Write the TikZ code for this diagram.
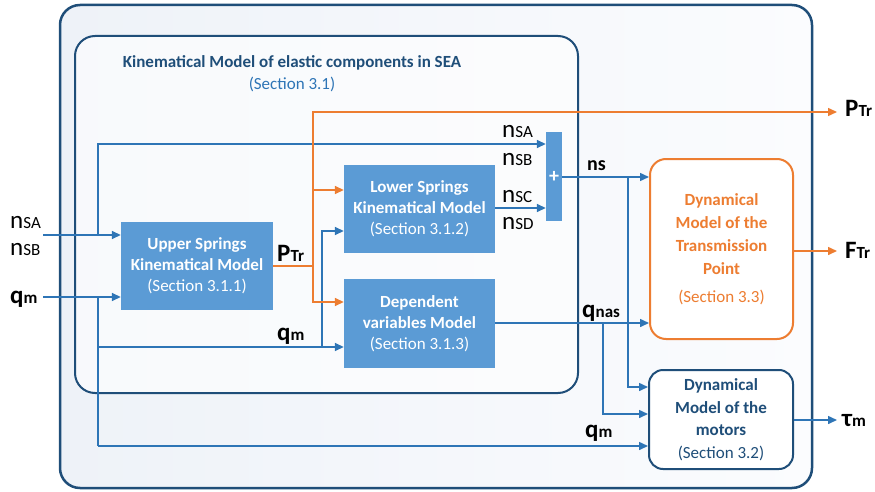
\documentclass[tikz,border=0pt]{standalone}
\usepackage{fontspec}
\setmainfont{Carlito}
\usetikzlibrary{arrows.meta}
\definecolor{dblue}{HTML}{1F4E79}
\definecolor{lblue}{HTML}{2E75B6}
\definecolor{bfill}{HTML}{5B9BD5}
\definecolor{orng}{HTML}{ED7D31}
\definecolor{bgA}{HTML}{EEF2F8}
\definecolor{bgB}{HTML}{FBFCFE}
\newcommand\bigt[1]{{\fontsize{25}{25}\selectfont #1}}
\newcommand\smt[1]{{\fontsize{17}{17}\selectfont #1}}
\newcommand\lab[2]{\bigt{#1}\smt{#2}}
\newcommand\blab[2]{\bfseries\bigt{#1}\smt{#2}}
\begin{document}
\begin{tikzpicture}[x=1pt,y=-1pt,
  conn/.style={draw=lblue,line width=1.5pt,-{Triangle[length=9pt,width=8pt]}},
  oconn/.style={draw=orng,line width=1.5pt,-{Triangle[length=9pt,width=8pt]}},
  bline/.style={draw=lblue,line width=1.5pt},
  oline/.style={draw=orng,line width=1.5pt},
  fbox/.style={rectangle,fill=bfill,draw=none,inner sep=0pt,align=center,text=white,font=\fontsize{17}{21}\selectfont},
  lbl/.style={inner sep=0pt,anchor=base west},
]
\useasboundingbox (0,0) rectangle (875,492);
% containers
\node[rectangle,rounded corners=20pt,draw=dblue,line width=2.5pt,left color=bgA,right color=bgB,minimum width=752pt,minimum height=483pt,inner sep=0pt] (outer) at (436,246.5) {};
\node[rectangle,rounded corners=20pt,draw=dblue,line width=2pt,fill=white,fill opacity=0.6,draw opacity=1,minimum width=503pt,minimum height=357pt,inner sep=0pt] (inner) at (326.5,214.5) {};
\node[align=center,inner sep=0pt,text=dblue,font=\fontsize{17}{22}\selectfont] (title) at (292,74) {\textbf{Kinematical Model of elastic components in SEA}\\\textcolor{lblue}{(Section 3.1)}};
% blocks
\node[fbox,minimum width=152pt,minimum height=88pt] (upper) at (197,266) {\textbf{Upper Springs}\\\textbf{Kinematical Model}\\(Section 3.1.1)};
\node[fbox,minimum width=151pt,minimum height=88pt] (lower) at (419.5,209) {\textbf{Lower Springs}\\\textbf{Kinematical Model}\\(Section 3.1.2)};
\node[fbox,minimum width=151pt,minimum height=89pt] (dep) at (419.5,323.5) {\textbf{Dependent}\\\textbf{variables Model}\\(Section 3.1.3)};
\node[fbox,minimum width=16pt,minimum height=89pt,font=\fontsize{20}{20}\selectfont\bfseries] (plus) at (554,176.5) {+};
\node[rectangle,rounded corners=16pt,draw=orng,line width=2pt,fill=white,minimum width=143pt,minimum height=180pt,inner sep=0pt,align=center,text=orng,font=\fontsize{17}{23}\selectfont] (trans) at (721.5,249) {\textbf{Dynamical}\\\textbf{Model of the}\\\textbf{Transmission}\\\textbf{Point}\\[5pt](Section 3.3)};
\node[rectangle,rounded corners=14pt,draw=dblue,line width=2pt,fill=white,minimum width=144pt,minimum height=99pt,inner sep=0pt,align=center,text=dblue,font=\fontsize{17}{22.5}\selectfont] (motors) at (721,419.5) {\textbf{Dynamical}\\\textbf{Model of the}\\\textbf{motors}\\(Section 3.2)};
% free ends and junctions
\coordinate (inA) at (43,235);
\coordinate (inQ) at (43,297);
\coordinate (jA) at (98,235);
\coordinate (jAt) at (98,144);
\coordinate (jQ) at (98,297);
\coordinate (jQb) at (98,446);
\coordinate (jQm) at (98,347);
\coordinate (jL) at (322,347);
\coordinate (jLt) at (322,231);
\coordinate (jP) at (313,266);
\coordinate (jPt) at (313,112);
\coordinate (jPb) at (313,302);
\coordinate (jPm) at (313,190);
\coordinate (outP) at (837,112);
\coordinate (jN) at (628,177);
\coordinate (jNb) at (628,387);
\coordinate (jD) at (603,323);
\coordinate (jDb) at (603,414);
\coordinate (outF) at (837,251);
\coordinate (outT) at (837,420);
% blue connectors
\draw[conn] (inA) -- (inA -| upper.west);
\draw[conn] (inQ) -- (inQ -| upper.west);
\draw[conn] (jA) -- (jAt) -- (jAt -| plus.west);
\draw[bline] (jQ) -- (jQb);
\draw[conn] (jQb) -- (jQb -| motors.west);
\draw[conn] (jQm) -- (jQm -| dep.west);
\draw[conn] (jL) -- (jLt) -- (jLt -| lower.west);
\draw[conn] (lower.east |- 0,208) -- (plus.west |- 0,208);
\draw[conn] (plus.east |- jN) -- (jN -| trans.west);
\draw[conn] (jN) -- (jNb) -- (jNb -| motors.west);
\draw[conn] (dep.east |- jD) -- (jD -| trans.west);
\draw[conn] (jD) -- (jDb) -- (jDb -| motors.west);
\draw[conn] (motors.east |- outT) -- (outT);
% orange connectors
\draw[oline] (upper.east |- jP) -- (jP);
\draw[oconn] (jPb) -- (jPt) -- (outP);
\draw[oconn] (jP) -- (jPb) -- (jPb -| dep.west);
\draw[oconn] (jPm) -- (jPm -| lower.west);
\draw[oconn] (trans.east |- outF) -- (outF);
% labels
\node[lbl] (lA) at (10,228) {\lab{n}{SA}};
\node[lbl] (lB) at (10,255) {\lab{n}{SB}};
\node[lbl] (lQ) at (10,303) {\blab{q}{m}};
\node[lbl] (lA2) at (502,138) {\lab{n}{SA}};
\node[lbl] (lB2) at (502,165) {\lab{n}{SB}};
\node[lbl] (lC) at (502,202) {\lab{n}{SC}};
\node[lbl] (lD) at (502,229) {\lab{n}{SD}};
\node[lbl,font=\bfseries\fontsize{20}{20}\selectfont] (lN) at (587,170) {ns};
\node[lbl] (lP1) at (277,261) {\blab{P}{Tr}};
\node[lbl] (lQ2) at (277,340) {\blab{q}{m}};
\node[lbl] (lQn) at (582,317) {\blab{q}{nas}};
\node[lbl] (lQ3) at (585,437) {\blab{q}{m}};
\node[lbl] (lP2) at (845,117) {\blab{P}{Tr}};
\node[lbl] (lF) at (845,258) {\blab{F}{Tr}};
\node[lbl] (lT) at (842,426) {\blab{τ}{m}};
\end{tikzpicture}
\end{document}
